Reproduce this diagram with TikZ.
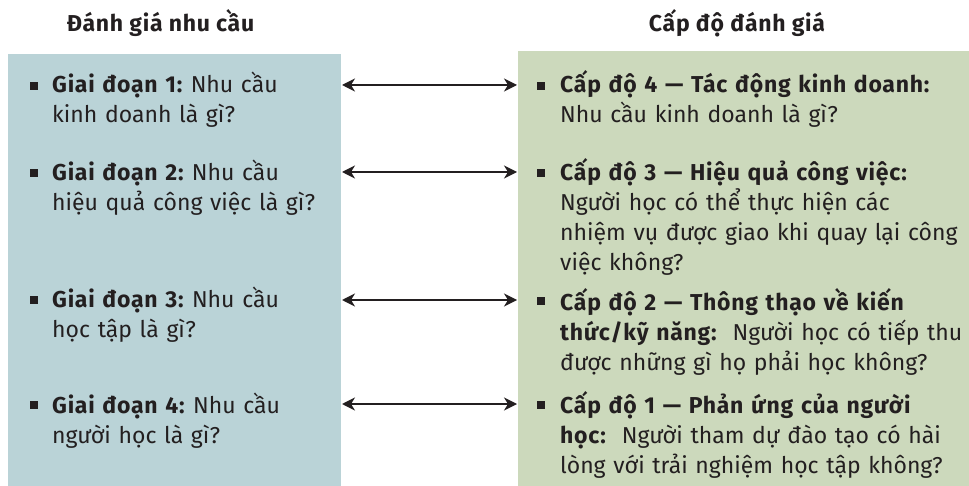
\documentclass[tikz,border=0pt]{standalone}
\usepackage{fontspec}
\setmainfont{Fira Sans}[UprightFeatures={WordSpace=0.75}, BoldFeatures={LetterSpace=3.2}]
\usetikzlibrary{arrows.meta}
\definecolor{ink}{HTML}{231F20}
\definecolor{leftfill}{HTML}{BAD3D7}
\definecolor{rightfill}{HTML}{CCD9BC}
\tikzset{
  panel/.style={draw=none, inner sep=0pt},
  item/.style={anchor=base west, inner sep=0pt, text width=420pt, align=left,
    text=ink, font=\fontsize{23}{30}\selectfont\frenchspacing},
  heading/.style={anchor=base, inner sep=0pt, text=ink,
    font=\fontsize{23}{28}\selectfont\bfseries},
  bul/.style={fill=ink, minimum size=7.5pt, inner sep=0pt},
  link/.style={draw=ink, line width=1.4pt,
    {Stealth[length=13pt,width=13pt,inset=4pt]}-{Stealth[length=13pt,width=13pt,inset=4pt]}}
}
\begin{document}
\begin{tikzpicture}[x=1pt,y=-1pt]
\useasboundingbox (0,0) rectangle (969,486);
% panels
\fill[leftfill] (8,54) rectangle (341,486);
\fill[rightfill] (518,51) rectangle (969,486);
\node[panel] (L) at (174.5,270) {};
\node[panel] (R) at (743.5,268.5) {};
% headings
\node[heading] (hl) at (160.5,32) {Đánh giá nhu cầu};
\node[heading] (hr) at (737,32) {Cấp độ đánh giá};
% left items
\node[bul] (lb1) at (34,86) {};
\node[item] (l1) at (52,93) {\textbf{Giai đoạn 1:} Nhu cầu\\kinh doanh là gì?};
\node[bul] (lb2) at (34,173) {};
\node[item] (l2) at (52,181) {\textbf{Giai đoạn 2:} Nhu cầu\\hiệu quả công việc là gì?};
\node[bul] (lb3) at (34,300) {};
\node[item] (l3) at (52,308) {\textbf{Giai đoạn 3:} Nhu cầu\\học tập là gì?};
\node[bul] (lb4) at (34,405) {};
\node[item] (l4) at (52,413) {\textbf{Giai đoạn 4:} Nhu cầu\\người học là gì?};
% right items
\node[bul] (rb1) at (541,86) {};
\node[item] (r1) at (560,93) {\textbf{Cấp độ 4 — Tác động kinh doanh:}\\Nhu cầu kinh doanh là gì?};
\node[bul] (rb2) at (541,173) {};
\node[item] (r2) at (560,181) {\textbf{Cấp độ 3 — Hiệu quả công việc:}\\Người học có thể thực hiện các\\nhiệm vụ được giao khi quay lại công\\việc không?};
\node[bul] (rb3) at (541,301) {};
\node[item] (r3) at (560,310) {\textbf{Cấp độ 2 — Thông thạo về kiến}\\\textbf{thức/kỹ năng:}\ \ Người học có tiếp thu\\được những gì họ phải học không?};
\node[bul] (rb4) at (541,405) {};
\node[item] (r4) at (560,413) {\textbf{Cấp độ 1 — Phản ứng của người}\\\textbf{học:}\ \ Người tham dự đào tạo có hài\\lòng với trải nghiệm học tập không?};
% connectors
\coordinate (a1l) at (342,85);  \coordinate (a1r) at (517,85);
\coordinate (a2l) at (342,172); \coordinate (a2r) at (517,172);
\coordinate (a3l) at (342,300); \coordinate (a3r) at (517,300);
\coordinate (a4l) at (342,404); \coordinate (a4r) at (517,404);
\draw[link] (a1l) -- (a1r);
\draw[link] (a2l) -- (a2r);
\draw[link] (a3l) -- (a3r);
\draw[link] (a4l) -- (a4r);
\end{tikzpicture}
\end{document}
